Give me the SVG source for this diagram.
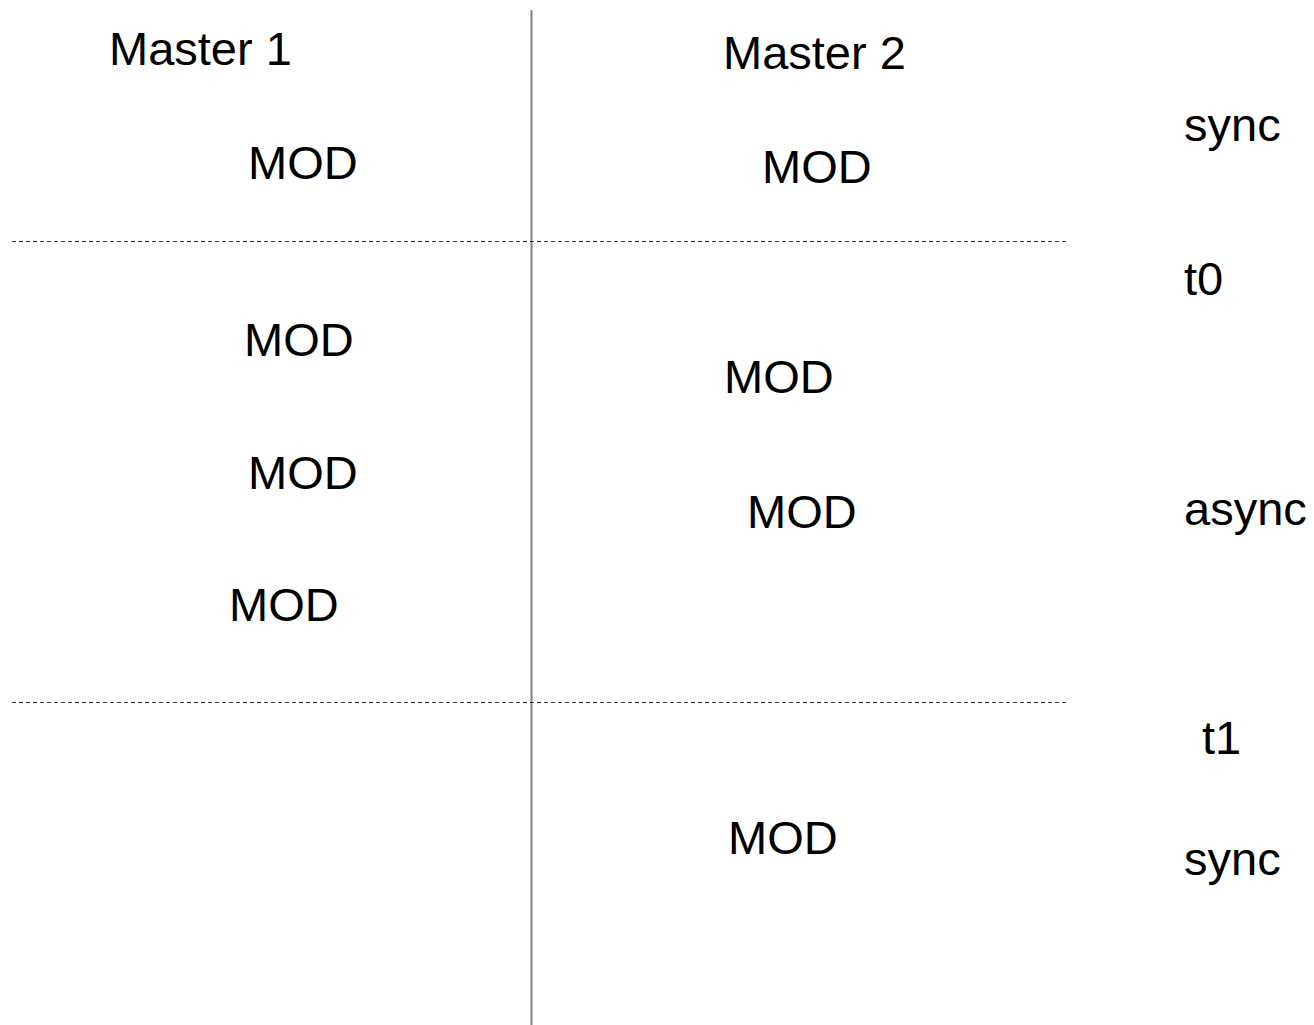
<svg xmlns="http://www.w3.org/2000/svg" width="1314" height="1025" viewBox="0 0 1314 1025">
<style>
.t{font-family:"Liberation Sans",Arial,sans-serif;font-size:47px;fill:#000}
.d{stroke:#333;stroke-width:1;stroke-dasharray:4,3;fill:none}
</style>
<rect width="1314" height="1025" fill="#fff"/>
<g id="connectors">
<line x1="531.5" y1="10" x2="531.5" y2="1025" stroke="#808080" stroke-width="2"/>
<line class="d" x1="12" y1="241.5" x2="1068" y2="241.5"/>
<line class="d" x1="12" y1="702.5" x2="1068" y2="702.5"/>
</g>
<g id="master1"><text class="t" x="109" y="65">Master 1</text></g>
<g id="master2"><text class="t" x="723" y="69">Master 2</text></g>
<g id="mod1"><text class="t" x="248" y="179">MOD</text></g>
<g id="mod2"><text class="t" x="762" y="183">MOD</text></g>
<g id="mod3"><text class="t" x="244" y="356">MOD</text></g>
<g id="mod4"><text class="t" x="724" y="393">MOD</text></g>
<g id="mod5"><text class="t" x="248" y="489">MOD</text></g>
<g id="mod6"><text class="t" x="747" y="528">MOD</text></g>
<g id="mod7"><text class="t" x="229" y="621">MOD</text></g>
<g id="mod8"><text class="t" x="728" y="854">MOD</text></g>
<g id="sync1"><text class="t" x="1184" y="141">sync</text></g>
<g id="t0"><text class="t" x="1184" y="295">t0</text></g>
<g id="async"><text class="t" x="1184" y="525">async</text></g>
<g id="t1"><text class="t" x="1202" y="754">t1</text></g>
<g id="sync2"><text class="t" x="1184" y="875">sync</text></g>
</svg>
